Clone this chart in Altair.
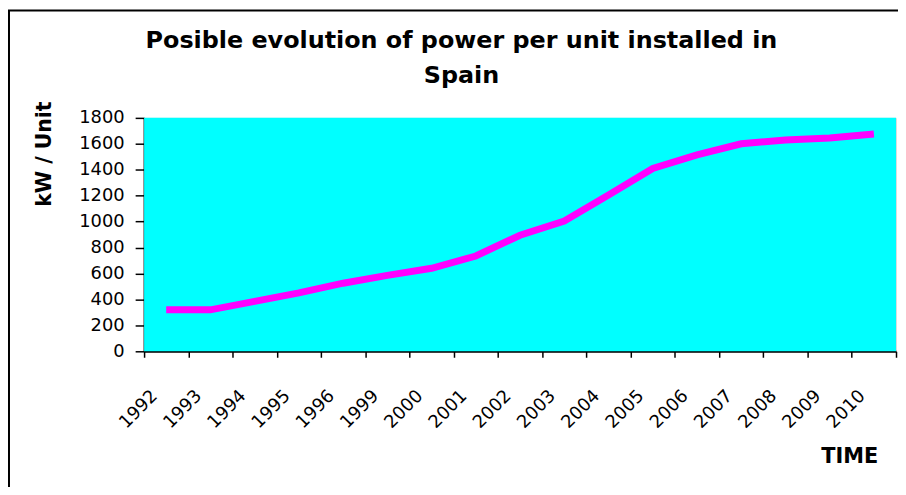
import altair as alt
import pandas as pd

years = ["1992", "1993", "1994", "1995", "1996", "1999", "2000", "2001", "2002",
         "2003", "2004", "2005", "2006", "2007", "2008", "2009", "2010"]
power = [320, 320, 385, 450, 525, 585, 640, 735, 895,
         1005, 1205, 1410, 1515, 1600, 1630, 1645, 1675]
y_ticks = [0, 200, 400, 600, 800, 1000, 1200, 1400, 1600, 1800]

df = pd.DataFrame({"year": years, "power": power})

FONT = "DejaVu Sans"
W, H = 757, 235

line = alt.Chart(df).mark_line(color="#FF00FF", strokeWidth=7, strokeCap="butt").encode(
    x=alt.X(
        "year:N", sort=years, bandPosition=0.5,
        scale=alt.Scale(type="band", paddingInner=0, paddingOuter=0),
        axis=alt.Axis(
            title="TIME", titleFont=FONT, titleFontSize=21, titleFontWeight="bold",
            titleColor="black", titleX=710, titleY=106, titleAlign="center",
            titleBaseline="middle", titleAngle=0,
            labelAngle=315, labelAlign="right", labelBaseline="middle",
            labelFont=FONT, labelFontSize=18, labelColor="black",
            labelOffset=-12, labelPadding=36, labelOverlap=False,
            tickBand="extent", tickSize=6, tickWidth=1.5, tickColor="black",
            domainColor="black", domainWidth=2, grid=False,
        ),
    ),
    y=alt.Y(
        "power:Q",
        scale=alt.Scale(domain=[0, 1800], nice=False),
        axis=alt.Axis(
            values=y_ticks, format="d", title="kW / Unit", titleFont=FONT,
            titleFontSize=20.5, titleFontWeight="bold", titleColor="black",
            titleX=-100, titleY=36, titleAngle=270, titleAlign="center",
            titleBaseline="middle",
            labelFont=FONT, labelFontSize=18, labelColor="black", labelPadding=11,
            tickSize=9, tickWidth=1.5, tickColor="black",
            domainColor="black", domainWidth=2, grid=False,
        ),
    ),
)

bg = alt.Chart(pd.DataFrame({"b": [0]})).mark_rect(fill="#00FFFF", stroke=None).encode(
    x=alt.value(0), x2=alt.value(W), y=alt.value(0), y2=alt.value(H)
)

border = alt.Chart(pd.DataFrame({"b": [0]})).mark_rect(
    fill=None, stroke="black", strokeWidth=2
).encode(
    x=alt.value(-136), x2=alt.value(2000), y=alt.value(-108), y2=alt.value(2000)
)

chart = alt.layer(border, bg, line).properties(
    width=W, height=H,
    autosize=alt.AutoSizeParams(type="none"),
    padding={"left": 137, "top": 109, "right": 2, "bottom": 135},
    title=alt.TitleParams(
        text=["Posible evolution of power per unit installed in", "Spain"],
        font=FONT, fontSize=24, fontWeight="bold", color="black",
        lineHeight=35, anchor="middle", dx=-59, dy=79, offset=0,
    ),
).configure_view(stroke=None).configure(background="white")

chart.save("out.html", embed_options={"renderer": "svg", "actions": False})
